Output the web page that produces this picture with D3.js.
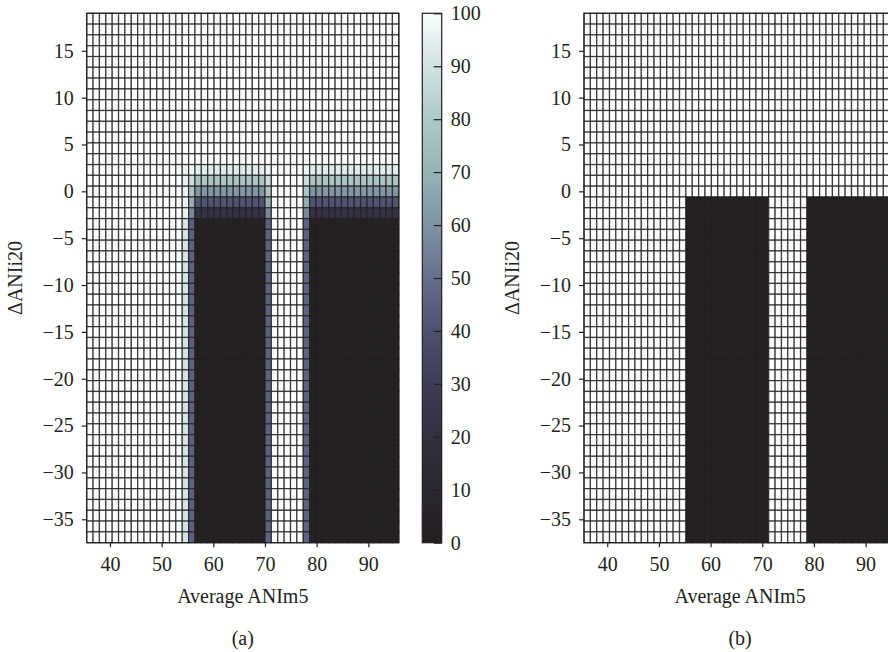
<!DOCTYPE html>
<html>
<head>
<meta charset="utf-8">
<script src="https://cdn.jsdelivr.net/npm/d3@7"></script>
<style>
  body { margin: 0; background: #fff; }
  svg { display: block; font-family: "Liberation Serif", "Times New Roman", serif; }
  .axis path.domain { display: none; }
  .axis line { stroke: #231f20; stroke-width: 1.2; }
  .axis text { font-size: 20px; fill: #231f20; font-family: "Liberation Serif", serif; }
  .label { font-size: 20px; fill: #231f20; }
</style>
</head>
<body>
<svg id="chart" width="888" height="652"></svg>
<script>
// cell centres (Average ANIm5 / ΔANIi20)
const xCenters = [36.12, 37.35, 38.58, 39.82, 41.05, 42.28, 43.51, 44.75, 45.98, 47.21,
  48.44, 49.68, 50.91, 52.14, 53.37, 54.61, 55.84, 57.07, 58.30, 59.54,
  60.77, 62.00, 63.24, 64.47, 65.70, 66.93, 68.17, 69.40, 70.63, 71.86,
  73.10, 74.33, 75.56, 76.79, 78.03, 79.26, 80.49, 81.72, 82.96, 84.19,
  85.42, 86.65, 87.89, 89.12, 90.35, 91.58, 92.82, 94.05, 95.28];
// top row first
const yCenters = [18.42, 17.27, 16.12, 14.96, 13.81, 12.66, 11.51, 10.35, 9.20, 8.05,
  6.89, 5.74, 4.59, 3.43, 2.28, 1.13, -0.03, -1.18, -2.33, -3.49,
  -4.64, -5.79, -6.94, -8.10, -9.25, -10.40, -11.56, -12.71, -13.86, -15.02,
  -16.17, -17.32, -18.47, -19.63, -20.78, -21.93, -23.09, -24.24, -25.39, -26.55,
  -27.70, -28.85, -30.00, -31.16, -32.31, -33.46, -34.62, -35.77, -36.92];

const xTicks = [40, 50, 60, 70, 80, 90];
const yTicks = [-35, -30, -25, -20, -15, -10, -5, 0, 5, 10, 15];
const colorbarTicks = [0, 10, 20, 30, 40, 50, 60, 70, 80, 90, 100];

// value of each cell code (%)
const cellCodes = { ".": 100, q: 96, p: 91, A: 97, B: 88, D: 68, E: 57, b: 46,
  "1": 94, "2": 78, "3": 61, "4": 41, "5": 22, k: 2 };

// panel (a), one string per row, top to bottom
const rowsA = [
  ".................................................",
  ".................................................",
  ".................................................",
  ".................................................",
  ".................................................",
  ".................................................",
  ".................................................",
  ".................................................",
  ".................................................",
  ".................................................",
  ".................................................",
  ".................................................",
  ".................................................",
  ".................................................",
  "...............qA11111111111A.....A11111111111111",
  "...............qB22222222222B.....B22222222222222",
  "...............q2333333333332.....233333333333333",
  "...............qD44444444444D.....D44444444444444",
  "...............qE55555555555E.....E55555555555555",
  "...............pbkkkkkkkkkkkb.....bkkkkkkkkkkkkkk",
  "...............pbkkkkkkkkkkkb.....bkkkkkkkkkkkkkk",
  "...............pbkkkkkkkkkkkb.....bkkkkkkkkkkkkkk",
  "...............pbkkkkkkkkkkkb.....bkkkkkkkkkkkkkk",
  "...............pbkkkkkkkkkkkb.....bkkkkkkkkkkkkkk",
  "...............pbkkkkkkkkkkkb.....bkkkkkkkkkkkkkk",
  "...............pbkkkkkkkkkkkb.....bkkkkkkkkkkkkkk",
  "...............pbkkkkkkkkkkkb.....bkkkkkkkkkkkkkk",
  "...............pbkkkkkkkkkkkb.....bkkkkkkkkkkkkkk",
  "...............pbkkkkkkkkkkkb.....bkkkkkkkkkkkkkk",
  "...............pbkkkkkkkkkkkb.....bkkkkkkkkkkkkkk",
  "...............pbkkkkkkkkkkkb.....bkkkkkkkkkkkkkk",
  "...............pbkkkkkkkkkkkb.....bkkkkkkkkkkkkkk",
  "...............pbkkkkkkkkkkkb.....bkkkkkkkkkkkkkk",
  "...............pbkkkkkkkkkkkb.....bkkkkkkkkkkkkkk",
  "...............pbkkkkkkkkkkkb.....bkkkkkkkkkkkkkk",
  "...............pbkkkkkkkkkkkb.....bkkkkkkkkkkkkkk",
  "...............pbkkkkkkkkkkkb.....bkkkkkkkkkkkkkk",
  "...............pbkkkkkkkkkkkb.....bkkkkkkkkkkkkkk",
  "...............pbkkkkkkkkkkkb.....bkkkkkkkkkkkkkk",
  "...............pbkkkkkkkkkkkb.....bkkkkkkkkkkkkkk",
  "...............pbkkkkkkkkkkkb.....bkkkkkkkkkkkkkk",
  "...............pbkkkkkkkkkkkb.....bkkkkkkkkkkkkkk",
  "...............pbkkkkkkkkkkkb.....bkkkkkkkkkkkkkk",
  "...............pbkkkkkkkkkkkb.....bkkkkkkkkkkkkkk",
  "...............pbkkkkkkkkkkkb.....bkkkkkkkkkkkkkk",
  "...............pbkkkkkkkkkkkb.....bkkkkkkkkkkkkkk",
  "...............pbkkkkkkkkkkkb.....bkkkkkkkkkkkkkk",
  "...............pbkkkkkkkkkkkb.....bkkkkkkkkkkkkkk",
  "...............pbkkkkkkkkkkkb.....bkkkkkkkkkkkkkk"
];

// panel (b)
const rowsB = [
  ".................................................",
  ".................................................",
  ".................................................",
  ".................................................",
  ".................................................",
  ".................................................",
  ".................................................",
  ".................................................",
  ".................................................",
  ".................................................",
  ".................................................",
  ".................................................",
  ".................................................",
  ".................................................",
  ".................................................",
  ".................................................",
  ".................................................",
  "................kkkkkkkkkkkkk......kkkkkkkkkkkkkk",
  "................kkkkkkkkkkkkk......kkkkkkkkkkkkkk",
  "................kkkkkkkkkkkkk......kkkkkkkkkkkkkk",
  "................kkkkkkkkkkkkk......kkkkkkkkkkkkkk",
  "................kkkkkkkkkkkkk......kkkkkkkkkkkkkk",
  "................kkkkkkkkkkkkk......kkkkkkkkkkkkkk",
  "................kkkkkkkkkkkkk......kkkkkkkkkkkkkk",
  "................kkkkkkkkkkkkk......kkkkkkkkkkkkkk",
  "................kkkkkkkkkkkkk......kkkkkkkkkkkkkk",
  "................kkkkkkkkkkkkk......kkkkkkkkkkkkkk",
  "................kkkkkkkkkkkkk......kkkkkkkkkkkkkk",
  "................kkkkkkkkkkkkk......kkkkkkkkkkkkkk",
  "................kkkkkkkkkkkkk......kkkkkkkkkkkkkk",
  "................kkkkkkkkkkkkk......kkkkkkkkkkkkkk",
  "................kkkkkkkkkkkkk......kkkkkkkkkkkkkk",
  "................kkkkkkkkkkkkk......kkkkkkkkkkkkkk",
  "................kkkkkkkkkkkkk......kkkkkkkkkkkkkk",
  "................kkkkkkkkkkkkk......kkkkkkkkkkkkkk",
  "................kkkkkkkkkkkkk......kkkkkkkkkkkkkk",
  "................kkkkkkkkkkkkk......kkkkkkkkkkkkkk",
  "................kkkkkkkkkkkkk......kkkkkkkkkkkkkk",
  "................kkkkkkkkkkkkk......kkkkkkkkkkkkkk",
  "................kkkkkkkkkkkkk......kkkkkkkkkkkkkk",
  "................kkkkkkkkkkkkk......kkkkkkkkkkkkkk",
  "................kkkkkkkkkkkkk......kkkkkkkkkkkkkk",
  "................kkkkkkkkkkkkk......kkkkkkkkkkkkkk",
  "................kkkkkkkkkkkkk......kkkkkkkkkkkkkk",
  "................kkkkkkkkkkkkk......kkkkkkkkkkkkkk",
  "................kkkkkkkkkkkkk......kkkkkkkkkkkkkk",
  "................kkkkkkkkkkkkk......kkkkkkkkkkkkkk",
  "................kkkkkkkkkkkkk......kkkkkkkkkkkkkk",
  "................kkkkkkkkkkkkk......kkkkkkkkkkkkkk"
];

// colour map, bone-like
const colorStopValues = [0, 10, 20, 30, 40, 50, 60, 70, 80, 90, 100];
const colorStopColors = ["#231f20", "#2a2730", "#33303f", "#3e3c55", "#4f5070", "#65708e",
  "#7f93a4", "#98b3b6", "#b0c8c8", "#d0e2e2", "#fbfdfd"];

const svg = d3.select("#chart");
const color = d3.scaleLinear().domain(colorStopValues).range(colorStopColors);

const plotTop = 13.3, plotHeight = 529.4, plotWidth = 312.1;

function drawPanel(rows, left, caption) {
  const x = d3.scaleLinear().domain([35.5, 95.9]).range([left, left + plotWidth]);
  const y = d3.scaleLinear().domain([-37.5, 19.0]).range([plotTop + plotHeight, plotTop]);
  const dx = (xCenters[1] - xCenters[0]) / 2;
  const dy = (yCenters[0] - yCenters[1]) / 2;

  const cells = [];
  rows.forEach((row, r) => {
    row.split("").forEach((code, c) => {
      cells.push({ x: xCenters[c], y: yCenters[r], v: cellCodes[code] });
    });
  });

  const g = svg.append("g");
  g.selectAll("rect.cell")
    .data(cells)
    .join("rect")
    .attr("class", "cell")
    .attr("x", d => x(d.x - dx))
    .attr("y", d => y(d.y + dy))
    .attr("width", d => x(d.x + dx) - x(d.x - dx))
    .attr("height", d => y(d.y - dy) - y(d.y + dy))
    .attr("fill", d => color(d.v))
    .attr("stroke", "#231f20")
    .attr("stroke-opacity", 0.8)
    .attr("stroke-width", 1.25);

  g.append("rect")
    .attr("x", left).attr("y", plotTop)
    .attr("width", plotWidth).attr("height", plotHeight)
    .attr("fill", "none").attr("stroke", "#231f20").attr("stroke-width", 1.2);

  svg.append("g")
    .attr("class", "axis")
    .attr("transform", `translate(${left},0)`)
    .call(d3.axisLeft(y).tickValues(yTicks).tickSize(5).tickPadding(8));

  svg.append("g")
    .attr("class", "axis")
    .attr("transform", `translate(0,${plotTop + plotHeight})`)
    .call(d3.axisBottom(x).tickValues(xTicks).tickSize(4.5).tickPadding(10));

  const cx = left + plotWidth / 2;
  svg.append("text").attr("class", "label")
    .attr("x", cx).attr("y", 603)
    .attr("text-anchor", "middle")
    .text("Average ANIm5");

  svg.append("text").attr("class", "label")
    .attr("transform", `translate(${left - 72},${plotTop + plotHeight / 2}) rotate(-90)`)
    .attr("text-anchor", "middle")
    .attr("dy", "0.35em")
    .text("ΔANIi20");

  svg.append("text").attr("class", "label")
    .attr("x", cx).attr("y", 645)
    .attr("text-anchor", "middle")
    .text(caption);
}

function drawColorbar(left, width) {
  const c = d3.scaleLinear().domain([0, 100]).range([plotTop + plotHeight, plotTop]);

  const grad = svg.append("defs").append("linearGradient")
    .attr("id", "cbar").attr("x1", 0).attr("y1", 1).attr("x2", 0).attr("y2", 0);
  grad.selectAll("stop")
    .data(colorStopValues)
    .join("stop")
    .attr("offset", d => d / 100)
    .attr("stop-color", d => color(d));

  svg.append("rect")
    .attr("x", left).attr("y", plotTop)
    .attr("width", width).attr("height", plotHeight)
    .attr("fill", "url(#cbar)")
    .attr("stroke", "#231f20").attr("stroke-width", 1.2);

  svg.append("g")
    .attr("class", "axis")
    .attr("transform", `translate(${left + width},0)`)
    .call(d3.axisRight(c).tickValues(colorbarTicks).tickSize(-8).tickPadding(9));
}

drawPanel(rowsA, 86.7, "(a)");
drawColorbar(422.3, 19.4);
drawPanel(rowsB, 584.0, "(b)");
</script>
</body>
</html>
